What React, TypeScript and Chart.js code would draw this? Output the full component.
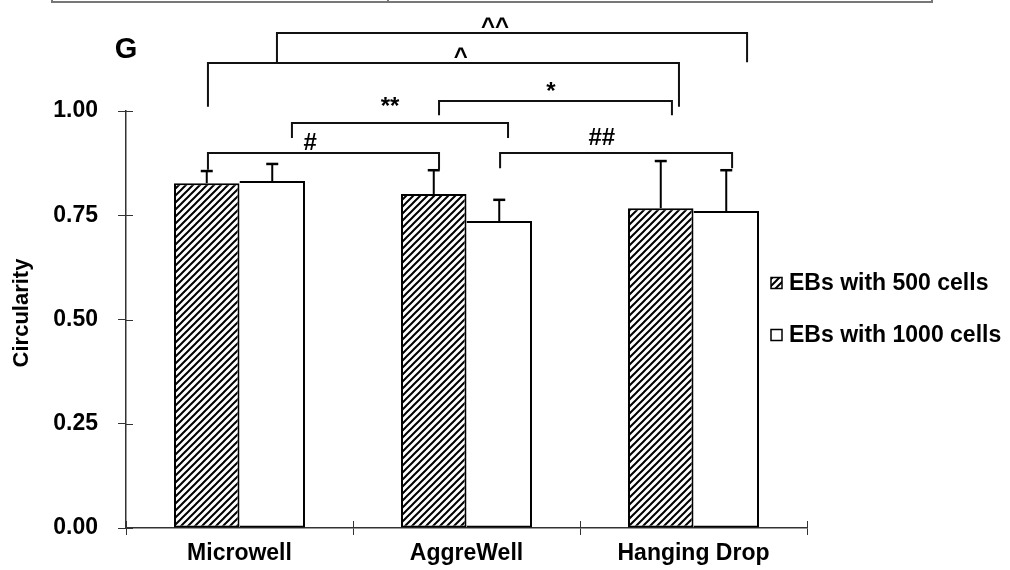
import React, { useEffect, useRef } from 'react';
import { Chart, registerables } from 'chart.js';
Chart.register(...registerables);

const categories = ['Microwell', 'AggreWell', 'Hanging Drop'];
const seriesLabels = ['EBs with 500 cells', 'EBs with 1000 cells'];
const values500 = [0.827, 0.801, 0.767];
const values1000 = [0.832, 0.736, 0.76];
const errors500 = [0.029, 0.057, 0.113];
const errors1000 = [0.041, 0.051, 0.098];
const yTickValues = [0, 0.25, 0.5, 0.75, 1];
const yAxisTitle = 'Circularity';
const panelLabel = 'G';

// significance brackets (x in category units, y in value units)
const bracketLabels = ['^^', '^', '*', '**', '#', '##'];
const bracketStart = [0.165, -0.139, 0.879, 0.231, -0.139, 1.148];
const bracketEnd = [2.236, 1.936, 1.905, 1.183, 0.879, 2.17];
const bracketTop = [1.187, 1.115, 1.024, 0.971, 0.899, 0.899];
const bracketFoot = [1.117, 1.01, 0.99, 0.935, 0.859, 0.863];
const bracketLabelX = [1.126, 0.975, 1.372, 0.663, 0.311, 1.596];
const bracketLabelY = [1.185, 1.113, 1.028, 0.992, 0.906, 0.918];

const FONT = "'Liberation Sans', Arial, sans-serif";

function makeHatch(): CanvasPattern | string {
  const size = 7;
  const c = document.createElement('canvas');
  c.width = size;
  c.height = size;
  const g = c.getContext('2d');
  if (!g) return '#888';
  g.fillStyle = '#fff';
  g.fillRect(0, 0, size, size);
  g.strokeStyle = '#000';
  g.lineWidth = 2;
  g.beginPath();
  g.moveTo(-1, size + 1);
  g.lineTo(size + 1, -1);
  g.moveTo(-2, 2);
  g.lineTo(2, -2);
  g.moveTo(size - 2, size + 2);
  g.lineTo(size + 2, size - 2);
  g.stroke();
  return g.createPattern(c, 'repeat') || '#888';
}

const extrasPlugin = {
  id: 'extras',
  afterDatasetsDraw(chart: any) {
    const ctx = chart.ctx;
    const y = chart.scales.y;
    const errs = [errors500, errors1000];
    ctx.save();
    ctx.strokeStyle = '#000';
    ctx.lineWidth = 2;
    chart.data.datasets.forEach((ds: any, di: number) => {
      const meta = chart.getDatasetMeta(di);
      meta.data.forEach((el: any, i: number) => {
        const top = y.getPixelForValue(ds.data[i] + errs[di][i]);
        ctx.lineWidth = 2;
        ctx.beginPath();
        ctx.moveTo(el.x, el.y);
        ctx.lineTo(el.x, top);
        ctx.stroke();
        ctx.lineWidth = 2.5;
        ctx.beginPath();
        ctx.moveTo(el.x - 6, top);
        ctx.lineTo(el.x + 6, top);
        ctx.stroke();
      });
    });
    ctx.restore();
  },
  afterDraw(chart: any) {
    const ctx = chart.ctx;
    const x = chart.scales.x;
    const y = chart.scales.y;
    const area = chart.chartArea;
    ctx.save();
    // inner halves of tick marks (ticks cross the axes)
    ctx.strokeStyle = '#333';
    ctx.lineWidth = 1;
    y.ticks.forEach((t: any) => {
      const py = Math.round(y.getPixelForValue(t.value)) + 0.5;
      ctx.beginPath();
      ctx.moveTo(area.left, py);
      ctx.lineTo(area.left + 7, py);
      ctx.stroke();
    });
    for (let i = 0; i <= categories.length; i++) {
      const px = Math.round(x.getPixelForValue(i - 0.5)) + 0.5;
      ctx.beginPath();
      ctx.moveTo(px, area.bottom);
      ctx.lineTo(px, area.bottom - 7);
      ctx.stroke();
    }
    // significance brackets
    ctx.strokeStyle = '#111';
    ctx.lineWidth = 2;
    bracketLabels.forEach((lab, i) => {
      const x0 = x.getPixelForValue(bracketStart[i]);
      const x1 = x.getPixelForValue(bracketEnd[i]);
      const yt = y.getPixelForValue(bracketTop[i]);
      const yf = y.getPixelForValue(bracketFoot[i]);
      ctx.beginPath();
      ctx.moveTo(x0, yf);
      ctx.lineTo(x0, yt);
      ctx.lineTo(x1, yt);
      ctx.lineTo(x1, yf);
      ctx.stroke();
      ctx.fillStyle = '#000';
      ctx.font = `bold 24px ${FONT}`;
      ctx.textAlign = 'center';
      ctx.textBaseline = 'alphabetic';
      ctx.fillText(lab, x.getPixelForValue(bracketLabelX[i]), y.getPixelForValue(bracketLabelY[i]));
    });
    // legend
    const legendRows = [283, 335];
    chart.data.datasets.forEach((ds: any, di: number) => {
      const cy = legendRows[di];
      ctx.fillStyle = ds.backgroundColor;
      ctx.fillRect(771, cy - 5.5, 11, 11);
      ctx.strokeStyle = '#000';
      ctx.lineWidth = 1.5;
      ctx.strokeRect(771, cy - 5.5, 11, 11);
      ctx.fillStyle = '#000';
      ctx.font = `bold 23px ${FONT}`;
      ctx.textAlign = 'left';
      ctx.textBaseline = 'middle';
      ctx.fillText(ds.label, 789, cy + 1);
    });
    // y axis title
    ctx.save();
    ctx.translate(22, 313);
    ctx.rotate(-Math.PI / 2);
    ctx.font = `bold 22px ${FONT}`;
    ctx.textAlign = 'center';
    ctx.textBaseline = 'middle';
    ctx.fillStyle = '#000';
    ctx.fillText(yAxisTitle, 0, 0);
    ctx.restore();
    // panel label
    ctx.font = `bold 29px ${FONT}`;
    ctx.textAlign = 'center';
    ctx.textBaseline = 'middle';
    ctx.fillStyle = '#000';
    ctx.fillText(panelLabel, 126, 50);
    // fragment of the table border above
    ctx.strokeStyle = '#777';
    ctx.lineWidth = 2;
    ctx.beginPath();
    ctx.moveTo(52, 0);
    ctx.lineTo(52, 2);
    ctx.lineTo(932, 2);
    ctx.lineTo(932, 0);
    ctx.moveTo(388, 0);
    ctx.lineTo(388, 2);
    ctx.stroke();
    ctx.restore();
  },
};

export default function App() {
  const ref = useRef<HTMLCanvasElement | null>(null);
  useEffect(() => {
    if (!ref.current) return;
    const hatch = makeHatch();
    const chart = new Chart(ref.current, {
      type: 'bar',
      data: {
        labels: categories,
        datasets: [
          {
            label: seriesLabels[0],
            data: values500,
            backgroundColor: hatch as any,
            borderColor: '#000',
            borderWidth: { top: 2, left: 2, right: 2, bottom: 2 },
            borderSkipped: false,
            categoryPercentage: 0.577,
            barPercentage: 1,
          },
          {
            label: seriesLabels[1],
            data: values1000,
            backgroundColor: '#fff',
            borderColor: '#000',
            borderWidth: { top: 2, left: 0, right: 2, bottom: 2 },
            borderSkipped: false,
            categoryPercentage: 0.577,
            barPercentage: 1,
          },
        ],
      },
      options: {
        responsive: false,
        animation: false,
        devicePixelRatio: 1,
        layout: { padding: { top: 111, right: 203, left: 0, bottom: 0 } },
        plugins: { legend: { display: false }, tooltip: { enabled: false } },
        scales: {
          x: {
            type: 'category',
            offset: true,
            grid: { offset: true, drawOnChartArea: false, tickLength: 7, color: '#333', lineWidth: 1 },
            border: { color: '#333', width: 1.5 },
            ticks: { font: { family: FONT, size: 23, weight: 'bold' }, color: '#000', padding: 5, maxRotation: 0 },
            afterFit: (s: any) => {
              s.height = 42;
            },
          },
          y: {
            min: 0,
            max: 1,
            afterBuildTicks: (s: any) => {
              s.ticks = yTickValues.map((v) => ({ value: v }));
            },
            ticks: {
              callback: (v: any) => Number(v).toFixed(2),
              font: { family: FONT, size: 23, weight: 'bold' },
              color: '#000',
              padding: 20,
            },
            grid: { drawOnChartArea: false, tickLength: 8, color: '#333', lineWidth: 1 },
            border: { color: '#333', width: 1.5 },
            afterFit: (s: any) => {
              s.width = 126;
            },
          },
        },
      },
      plugins: [extrasPlugin],
    });
    return () => chart.destroy();
  }, []);
  return (
    <div style={{ position: 'absolute', left: 0, top: 0, width: 1010, height: 570, background: '#fff' }}>
      <canvas ref={ref} width={1010} height={570} style={{ display: 'block' }} />
    </div>
  );
}
